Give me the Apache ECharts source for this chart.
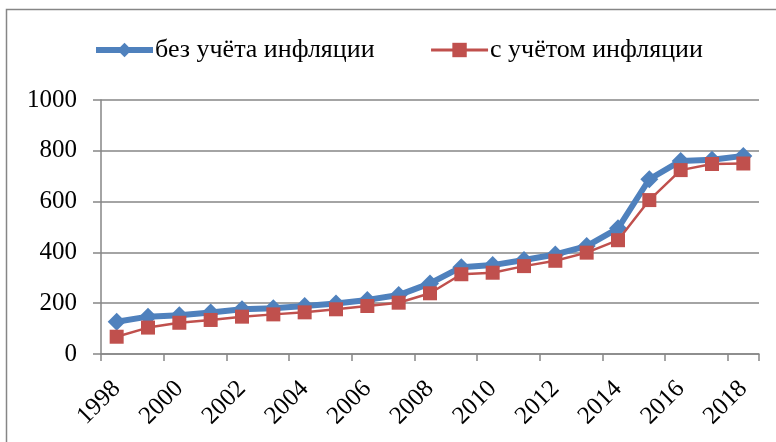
<!DOCTYPE html>
<html>
<head>
<meta charset="utf-8">
<script src="https://cdn.jsdelivr.net/npm/echarts@6/dist/echarts.min.js"></script>
<style>
  html, body { margin: 0; padding: 0; background: #fff; }
  #chart { width: 776px; height: 442px; }
</style>
</head>
<body>
<div id="chart"></div>
<script>
// годы и значения
var years = ['1998', '1999', '2000', '2001', '2002', '2003', '2004', '2005', '2006', '2007',
  '2008', '2009', '2010', '2011', '2012', '2013', '2014', '2015', '2016', '2017', '2018'];
var withoutInflation = [127, 147, 153, 163, 176, 180, 189, 199, 213, 232, 278,
  342, 350, 370, 392, 425, 495, 688, 760, 765, 780];
var withInflation = [68, 104, 123, 134, 147, 156, 164, 176, 189, 202, 239,
  314, 320, 346, 367, 399, 448, 606, 724, 748, 750];
var seriesNames = ['без учёта инфляции', 'с учётом инфляции'];

const gridColor = '#868686';
const blue = '#4F81BD';
const red = '#C0504D';
const fontFamily = "'Times New Roman', 'Liberation Serif', serif";

var myChart = echarts.init(document.getElementById('chart'));

var option = {
  animation: false,
  textStyle: { fontFamily: fontFamily },
  graphic: [{
    type: 'rect',
    shape: { x: 6.5, y: 9.5, width: 820, height: 500 },
    style: { fill: 'none', stroke: gridColor, lineWidth: 1.5 }
  }],
  legend: {
    left: 88,
    top: 32,
    itemWidth: 57,
    itemHeight: 18,
    itemGap: 55,
    textStyle: { fontFamily: fontFamily, fontSize: 26, color: '#000', padding: [0, 0, 0, -3] },
    data: [
      { name: seriesNames[0], lineStyle: { width: 6, color: blue } },
      { name: seriesNames[1], lineStyle: { width: 3, color: red } }
    ]
  },
  grid: {
    left: 101,
    right: 17,
    top: 100,
    bottom: 88
  },
  xAxis: {
    type: 'category',
    boundaryGap: true,
    data: years,
    axisLine: { lineStyle: { color: gridColor, width: 1.5 } },
    axisTick: { show: true, interval: 1, length: 7, lineStyle: { color: gridColor, width: 1.5 } },
    axisLabel: {
      interval: 1,
      rotate: 45,
      margin: 31,
      color: '#000',
      fontFamily: fontFamily,
      fontSize: 25
    }
  },
  yAxis: {
    type: 'value',
    min: 0,
    max: 1000,
    interval: 200,
    axisLine: { show: true, lineStyle: { color: gridColor, width: 1.5 } },
    axisTick: { show: true, length: 8, lineStyle: { color: gridColor, width: 1.5 } },
    splitLine: { show: true, lineStyle: { color: gridColor, width: 1.5 } },
    axisLabel: {
      margin: 24,
      color: '#000',
      fontFamily: fontFamily,
      fontSize: 25,
      formatter: function (val) { return String(val); }
    }
  },
  series: [
    {
      name: seriesNames[0],
      type: 'line',
      data: withoutInflation,
      symbol: 'diamond',
      symbolSize: 18,
      z: 2,
      lineStyle: { color: blue, width: 6 },
      itemStyle: { color: blue }
    },
    {
      name: seriesNames[1],
      type: 'line',
      data: withInflation,
      symbol: 'rect',
      symbolSize: 14,
      z: 3,
      lineStyle: { color: red, width: 2.5 },
      itemStyle: { color: red }
    }
  ]
};

myChart.setOption(option);
</script>
</body>
</html>
